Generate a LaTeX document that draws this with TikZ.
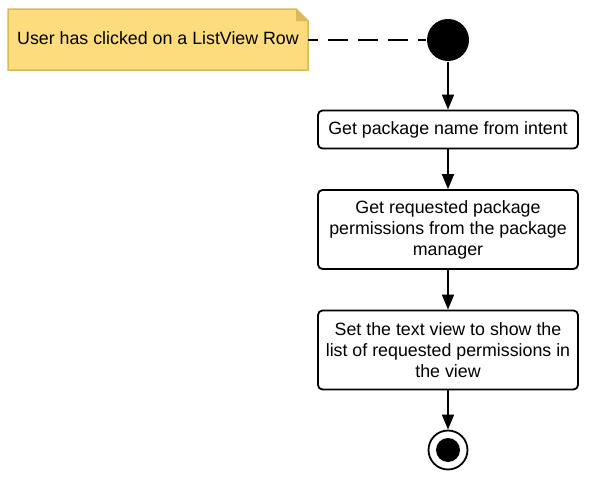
\documentclass[tikz,border=0pt]{standalone}
\usepackage{fontspec}
\setmainfont{Liberation Sans}
\usetikzlibrary{arrows.meta,positioning}
\definecolor{notefill}{HTML}{FCDC7C}
\definecolor{noteline}{HTML}{D8BA5A}

\begin{document}
\begin{tikzpicture}[x=1pt,y=-1pt,
  font=\fontsize{17.8}{21}\selectfont,
  every path/.style={line width=1.8pt},
  action/.style={draw, rounded corners=4.5pt, minimum width=260pt, align=center, inner sep=0pt},
  flow/.style={-{Triangle[length=15pt,width=12pt]}},
  startdot/.style={circle, fill=black, minimum size=42pt, inner sep=0pt},
  endring/.style={circle, draw, fill=white, minimum size=39pt, inner sep=0pt}]
\useasboundingbox (0,0) rectangle (590,482);

% note with folded corner
\fill[notefill] (8,9) -- (296,9) -- (308,21) -- (308,70) -- (8,70) -- cycle;
\draw[noteline, line width=1.5pt] (8,9) -- (296,9) -- (308,21) -- (308,70) -- (8,70) -- cycle;
\fill[noteline] (296,9) -- (308,21) -- (296,21) -- cycle;
\node (note) at (158,38) {User has clicked on a ListView Row};
\coordinate (noteend) at (308,40);

\node[startdot] (start) at (448,40) {};
\node[action, minimum height=38pt] (pkg) at (448,129.5) {Get package name from intent};
\node[action, minimum height=79pt] (perm) at (448,229.5) {Get requested package\\permissions from the package\\manager};
\node[action, minimum height=79pt] (show) at (448,350) {Set the text view to show the\\list of requested permissions in\\the view};
\node[endring] (stop) at (448,450) {};
\fill (stop.center) circle (12pt);

\draw[dash pattern=on 20pt off 10pt, dash phase=10pt] (noteend) -- (start);
\draw[flow] (start) -- (pkg);
\draw[flow] (pkg) -- (perm);
\draw[flow] (perm) -- (show);
\draw[flow] (show) -- (stop);
\end{tikzpicture}
\end{document}
